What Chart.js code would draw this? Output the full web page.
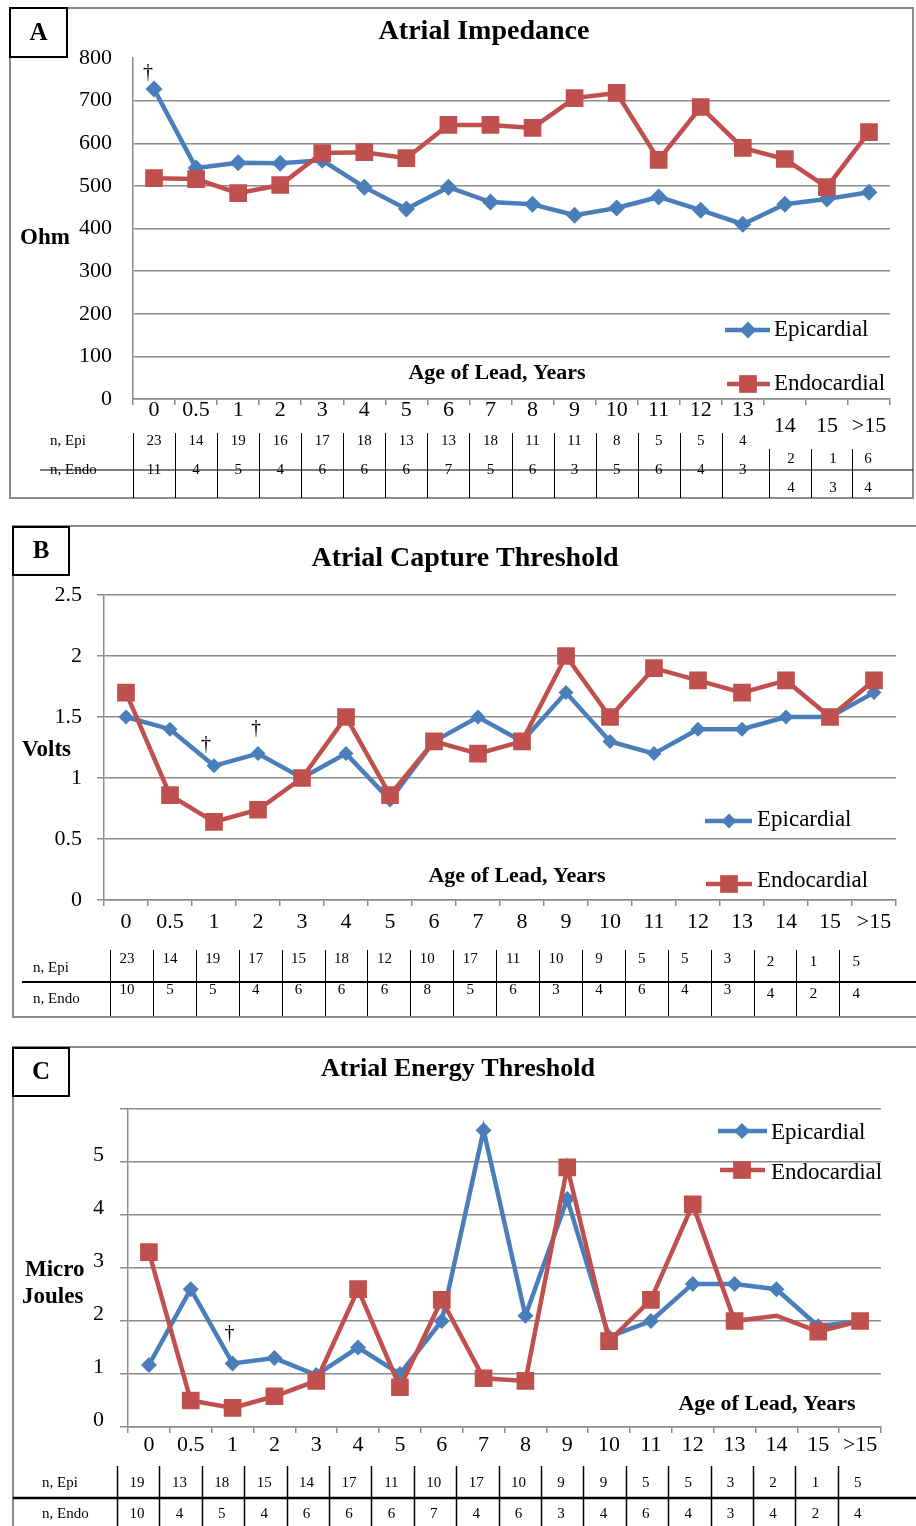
<!DOCTYPE html>
<html>
<head>
<meta charset="utf-8">
<script src="https://cdn.jsdelivr.net/npm/chart.js@4"></script>
<style>
html, body { margin: 0; padding: 0; background: #fff; }
#wrap { position: relative; width: 916px; height: 1526px; overflow: hidden; }
canvas { position: absolute; left: 0; }
</style>
</head>
<body>
<div id="wrap">
  <canvas id="chartA" width="916" height="506" style="top:0px"></canvas>
  <canvas id="chartB" width="916" height="530" style="top:506px"></canvas>
  <canvas id="chartC" width="916" height="490" style="top:1036px"></canvas>
</div>
<script>
// categories (age of lead, years)
const ageLabels = ['0', '0.5', '1', '2', '3', '4', '5', '6', '7', '8', '9', '10', '11', '12', '13', '14', '15', '>15'];

// A - Atrial Impedance (Ohm)
const impedanceEpi  = [727, 542, 554, 553, 560, 497, 446, 497, 462, 457, 431, 448, 474, 443, 410, 457, 469, 485];
const impedanceEndo = [518, 516, 483, 502, 577, 579, 565, 643, 643, 636, 706, 718, 561, 685, 589, 563, 497, 626];
const impedanceTicks = [0, 100, 200, 300, 400, 500, 600, 700, 800];
const impedanceNEpi  = [23, 14, 19, 16, 17, 18, 13, 13, 18, 11, 11, 8, 5, 5, 4, 2, 1, 6];
const impedanceNEndo = [11, 4, 5, 4, 6, 6, 6, 7, 5, 6, 3, 5, 6, 4, 3, 4, 3, 4];
const impedanceDaggers = [0];

// B - Atrial Capture Threshold (Volts)
const captureEpi  = [1.5, 1.4, 1.1, 1.2, 1.0, 1.2, 0.82, 1.3, 1.5, 1.3, 1.7, 1.3, 1.2, 1.4, 1.4, 1.5, 1.5, 1.7];
const captureEndo = [1.7, 0.86, 0.64, 0.74, 1.0, 1.5, 0.86, 1.3, 1.2, 1.3, 2.0, 1.5, 1.9, 1.8, 1.7, 1.8, 1.5, 1.8];
const captureTicks = [0, 0.5, 1, 1.5, 2, 2.5];
const captureNEpi  = [23, 14, 19, 17, 15, 18, 12, 10, 17, 11, 10, 9, 5, 5, 3, 2, 1, 5];
const captureNEndo = [10, 5, 5, 4, 6, 6, 6, 8, 5, 6, 3, 4, 6, 4, 3, 4, 2, 4];
const captureDaggers = [2, 3];

// C - Atrial Energy Threshold (micro joules)
const energyEpi  = [1.17, 2.6, 1.2, 1.3, 0.98, 1.5, 1.0, 2.0, 5.6, 2.1, 4.3, 1.7, 2.0, 2.7, 2.7, 2.6, 1.9, 2.0];
const energyEndo = [3.3, 0.5, 0.36, 0.58, 0.87, 2.6, 0.75, 2.4, 0.92, 0.87, 4.9, 1.62, 2.4, 4.2, 2.0, 2.1, 1.8, 2.0];
const energyTicks = [0, 1, 2, 3, 4, 5, 6];
const energyTickLabels = ['0', '1', '2', '3', '4', '5', ''];
const energyNEpi  = [19, 13, 18, 15, 14, 17, 11, 10, 17, 10, 9, 9, 5, 5, 3, 2, 1, 5];
const energyNEndo = [10, 4, 5, 4, 6, 6, 6, 7, 4, 6, 3, 4, 6, 4, 3, 4, 2, 4];
const energyDaggers = [2];
const energyEndoHidden = [15]; // no marker drawn at 14 years

const SERIF = '"Liberation Serif", "Times New Roman", serif';
const BLUE = '#4a7ebb';
const RED = '#c0504d';
const GRID = '#8c8c8c';

function text(ctx, s, x, y, font, align) {
    ctx.font = font;
    ctx.fillStyle = '#000';
    ctx.textAlign = align;
    ctx.textBaseline = 'middle';
    ctx.fillText(s, x, y);
}

function marker(ctx, shape, x, y, r, color) {
    ctx.fillStyle = color;
    ctx.beginPath();
    if (shape === 'diamond') {
        ctx.moveTo(x, y - r);
        ctx.lineTo(x + r, y);
        ctx.lineTo(x, y + r);
        ctx.lineTo(x - r, y);
    } else {
        const h = r * Math.SQRT1_2;
        ctx.rect(x - h, y - h, 2 * h, 2 * h);
    }
    ctx.closePath();
    ctx.fill();
}

// [x1, x2, y, markerX, radius, textX, textY]
function legendItem(ctx, label, color, shape, g) {
    ctx.strokeStyle = color;
    ctx.lineWidth = 4.5;
    ctx.beginPath();
    ctx.moveTo(g[0], g[2]);
    ctx.lineTo(g[1], g[2]);
    ctx.stroke();
    marker(ctx, shape, g[3], g[2], g[4], color);
    text(ctx, label, g[5], g[6], '23px ' + SERIF, 'left');
}

// titles, frame, legend, daggers and the n table
function decorPlugin(p) {
    return {
        id: 'decor',
        afterDraw(chart) {
            const ctx = chart.ctx;
            const xs = chart.scales.x;
            ctx.save();
            ctx.translate(0, -p.top);

            // panel frame
            ctx.strokeStyle = GRID;
            ctx.lineWidth = 2;
            ctx.strokeRect(p.frame[0], p.frame[1], p.frame[2], p.frame[3]);

            // letter box
            const b = p.badge;
            ctx.fillStyle = '#fff';
            ctx.fillRect(b[0], b[1], b[2], b[3]);
            ctx.strokeStyle = '#000';
            ctx.strokeRect(b[0], b[1], b[2], b[3]);
            text(ctx, p.letter, b[0] + b[2] / 2, b[1] + b[3] / 2 + 1, 'bold 25px ' + SERIF, 'center');

            text(ctx, p.title, p.titlePos[0], p.titlePos[1], 'bold ' + p.titleSize + 'px ' + SERIF, 'center');
            p.yTitle.forEach(t => text(ctx, t[0], t[1], t[2], 'bold 23px ' + SERIF, 'left'));
            text(ctx, 'Age of Lead, Years', p.xTitle[0], p.xTitle[1], 'bold 22px ' + SERIF, 'center');

            legendItem(ctx, 'Epicardial', BLUE, 'diamond', p.legend[0]);
            legendItem(ctx, 'Endocardial', RED, 'square', p.legend[1]);

            // dagger marks next to Epicardial points
            const meta = chart.getDatasetMeta(0);
            p.daggers.forEach((i, k) => {
                const pt = meta.data[i];
                const off = p.daggerOffset[k];
                text(ctx, '\u2020', pt.x + off[0], pt.y + p.top + off[1], '20px ' + SERIF, 'center');
            });

            // n table
            const tb = p.table;
            ctx.strokeStyle = '#000';
            ctx.lineWidth = tb.hWidth;
            ctx.beginPath();
            ctx.moveTo(tb.hLine[0], tb.hLine[2]);
            ctx.lineTo(tb.hLine[1], tb.hLine[2]);
            ctx.stroke();
            ctx.lineWidth = tb.vWidth;
            text(ctx, 'n, Epi', tb.labelX, tb.labelY[0], '15px ' + SERIF, 'left');
            text(ctx, 'n, Endo', tb.labelX, tb.labelY[1], '15px ' + SERIF, 'left');
            for (let i = 0; i < ageLabels.length; i++) {
                const lx = Math.round(tb.lineX(i, xs)) + 0.5;
                ctx.strokeStyle = '#000';
                ctx.beginPath();
                ctx.moveTo(lx, tb.lineY(i)[0]);
                ctx.lineTo(lx, tb.lineY(i)[1]);
                ctx.stroke();
                const vx = tb.valueX(i, xs);
                text(ctx, String(p.nEpi[i]), vx, tb.rowY(i)[0], '15px ' + SERIF, 'center');
                text(ctx, String(p.nEndo[i]), vx, tb.rowY(i)[1], '15px ' + SERIF, 'center');
            }
            ctx.restore();
        }
    };
}

function buildChart(id, p) {
    const area = p.area;
    return new Chart(document.getElementById(id), {
        type: 'line',
        data: {
            labels: ageLabels,
            datasets: [
                {
                    label: 'Epicardial',
                    data: p.epi,
                    borderColor: BLUE,
                    backgroundColor: BLUE,
                    borderWidth: 4.5,
                    pointStyle: 'rectRot',
                    pointRadius: p.diamond,
                    pointBorderWidth: 0,
                    tension: 0,
                    order: 2
                },
                {
                    label: 'Endocardial',
                    data: p.endo,
                    borderColor: RED,
                    backgroundColor: RED,
                    borderWidth: 4.5,
                    pointStyle: 'rect',
                    pointRadius: ctx => (p.endoHidden.includes(ctx.dataIndex) ? 0 : p.square),
                    pointBorderWidth: 0,
                    tension: 0,
                    order: 1
                }
            ]
        },
        options: {
            responsive: false,
            animation: false,
            events: [],
            layout: { padding: { top: area.top, right: 916 - area.right, left: 0, bottom: 0 } },
            plugins: {
                legend: { display: false },
                title: { display: false },
                tooltip: { enabled: false }
            },
            scales: {
                x: {
                    type: 'category',
                    offset: true,
                    grid: { offset: true, drawOnChartArea: false, drawTicks: true, tickLength: 6, color: GRID, lineWidth: 1.5 },
                    border: { display: true, color: GRID, width: 1.5 },
                    ticks: {
                        autoSkip: false,
                        maxRotation: 0,
                        color: '#000',
                        padding: p.xPad,
                        font: { family: SERIF, size: 22, lineHeight: p.xLineHeight },
                        callback: (v, i) => (p.lowLabels.includes(i) ? ['', ageLabels[i]] : ageLabels[i])
                    },
                    afterFit: s => { s.height = p.height - area.bottom; }
                },
                y: {
                    min: p.ticks[0],
                    max: p.ticks[p.ticks.length - 1],
                    afterBuildTicks: s => { s.ticks = p.ticks.map(v => ({ value: v })); },
                    grid: {
                        color: c => (p.hideGrid.includes(c.tick.value) ? 'rgba(0,0,0,0)' : GRID),
                        lineWidth: 1.5,
                        drawTicks: p.yTickLen > 0,
                        tickLength: p.yTickLen
                    },
                    border: { display: true, color: GRID, width: 1.5 },
                    ticks: {
                        color: '#000',
                        padding: p.yPad,
                        labelOffset: p.yLabelOffset,
                        font: { family: SERIF, size: 22 },
                        callback: (v, i) => (p.tickLabels ? p.tickLabels[i] : String(v))
                    },
                    afterFit: s => { s.width = area.left; }
                }
            }
        },
        plugins: [decorPlugin(p)]
    });
}

const panelA = {
    top: 0, height: 506,
    epi: impedanceEpi, endo: impedanceEndo, nEpi: impedanceNEpi, nEndo: impedanceNEndo,
    ticks: impedanceTicks, tickLabels: null, hideGrid: [800],
    area: { left: 133, right: 890, top: 58, bottom: 399 },
    diamond: 8.5, square: 12.5, endoHidden: [],
    xPad: -2, xLineHeight: 0.7, lowLabels: [15, 16, 17],
    yPad: 21, yTickLen: 0, yLabelOffset: 0,
    frame: [10, 8, 903, 490], badge: [10, 8, 57, 49], letter: 'A',
    title: 'Atrial Impedance', titlePos: [484, 32], titleSize: 28,
    yTitle: [['Ohm', 20, 238]], xTitle: [497, 373],
    legend: [[725, 770, 330, 748, 8.5, 774, 330], [727, 770, 384, 748, 12.5, 774, 384]],
    daggers: impedanceDaggers, daggerOffset: [[-6, -16]],
    table: {
        labelX: 50, labelY: [441, 470],
        hLine: [40, 913, 470], hWidth: 1.2, vWidth: 1,
        valueX: (i, xs) => (i < 15 ? xs.getPixelForValue(i) : [791, 833, 868][i - 15]),
        lineX: (i, xs) => (i < 15 ? xs.getPixelForValue(i) - 21 : [769, 811, 852][i - 15]),
        lineY: i => (i < 15 ? [433, 498] : [449, 498]),
        rowY: i => (i < 15 ? [441, 470] : [459, 488])
    }
};

const panelB = {
    top: 506, height: 530,
    epi: captureEpi, endo: captureEndo, nEpi: captureNEpi, nEndo: captureNEndo,
    ticks: captureTicks, tickLabels: null, hideGrid: [],
    area: { left: 104, right: 896, top: 89, bottom: 394 },
    diamond: 7.5, square: 12.5, endoHidden: [],
    xPad: 3, xLineHeight: 1.2, lowLabels: [],
    yPad: 15, yTickLen: 7, yLabelOffset: 0,
    frame: [13, 526, 910, 491], badge: [13, 527, 56, 48], letter: 'B',
    title: 'Atrial Capture Threshold', titlePos: [465, 559], titleSize: 28,
    yTitle: [['Volts', 22, 750]], xTitle: [517, 876],
    legend: [[705, 752, 821, 729, 7.5, 757, 820], [706, 752, 884, 729, 12.5, 757, 881]],
    daggers: captureDaggers, daggerOffset: [[-8, -21], [-2, -25]],
    table: {
        labelX: 33, labelY: [968, 999],
        hLine: [22, 916, 982], hWidth: 2, vWidth: 1,
        valueX: i => 127 + 42.9 * i,
        lineX: i => 110 + 42.9 * i,
        lineY: () => [950, 1016],
        rowY: i => (i < 15 ? [959, 990] : [962, 994])
    }
};

const panelC = {
    top: 1036, height: 490,
    epi: energyEpi, endo: energyEndo, nEpi: energyNEpi, nEndo: energyNEndo,
    ticks: energyTicks, tickLabels: energyTickLabels, hideGrid: [],
    area: { left: 128, right: 881, top: 73, bottom: 391 },
    diamond: 8, square: 12.5, endoHidden: energyEndoHidden,
    xPad: -1, xLineHeight: 1.2, lowLabels: [],
    yPad: 16, yTickLen: 8, yLabelOffset: -7,
    frame: [13, 1047, 910, 490], badge: [13, 1048, 56, 48], letter: 'C',
    title: 'Atrial Energy Threshold', titlePos: [458, 1069], titleSize: 26,
    yTitle: [['Micro', 25, 1270], ['Joules', 22, 1297]], xTitle: [767, 1404],
    legend: [[718, 767, 1131, 742, 8, 771, 1133], [720, 765, 1170, 742, 12.5, 771, 1173]],
    daggers: energyDaggers, daggerOffset: [[-3, -30]],
    table: {
        labelX: 42, labelY: [1483, 1514],
        hLine: [13, 916, 1498], hWidth: 2.5, vWidth: 1.5,
        valueX: i => 137 + 42.4 * i,
        lineX: i => 117 + 42.4 * i,
        lineY: () => [1466, 1526],
        rowY: () => [1483, 1514]
    }
};

buildChart('chartA', panelA);
buildChart('chartB', panelB);
buildChart('chartC', panelC);
</script>
</body>
</html>
